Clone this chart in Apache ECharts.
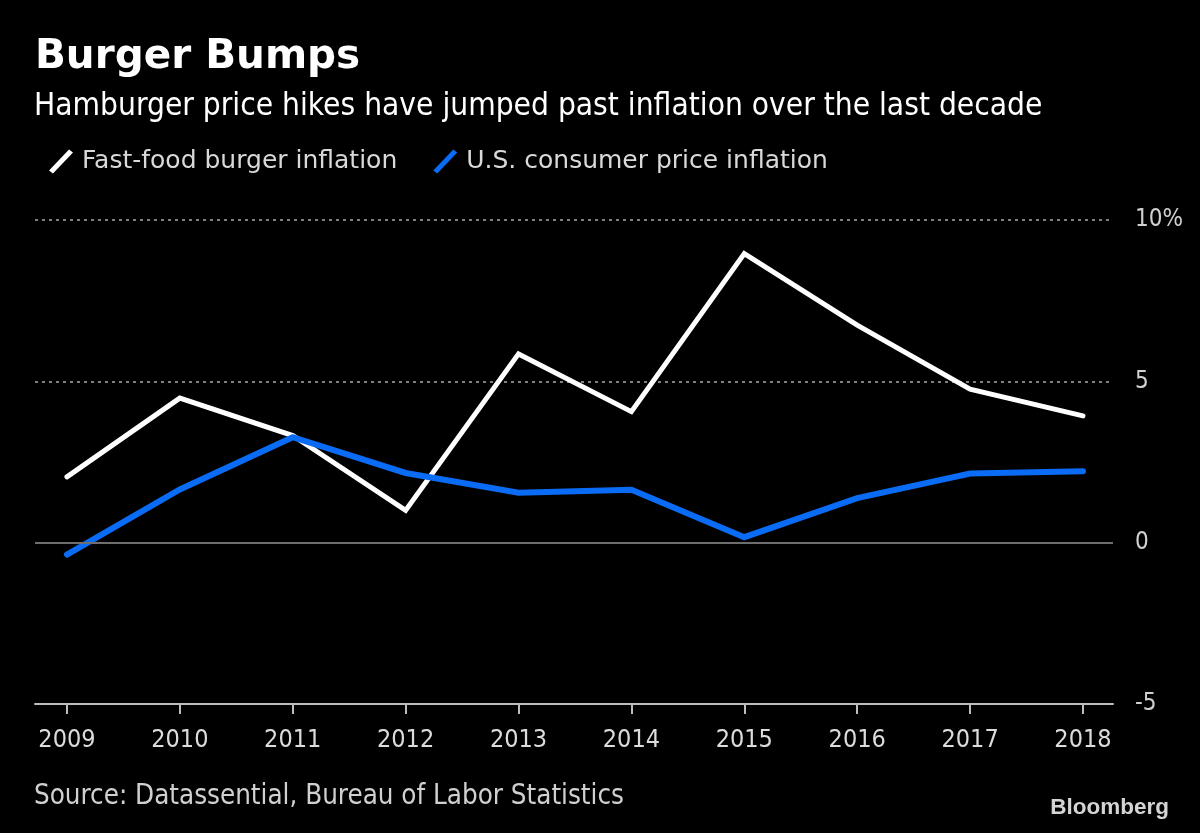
<!DOCTYPE html>
<html>
<head>
<meta charset="utf-8">
<script src="https://cdn.jsdelivr.net/npm/echarts@6/dist/echarts.min.js"></script>
<style>
html,body{margin:0;padding:0;background:#000;}
#chart{width:1200px;height:833px;}
</style>
</head>
<body>
<div id="chart"></div>
<script>
const years = [2009, 2010, 2011, 2012, 2013, 2014, 2015, 2016, 2017, 2018];
const burgerInflation = [2.04, 4.48, 3.32, 1.0, 5.85, 4.06, 8.96, 6.74, 4.76, 3.93];
const cpiInflation = [-0.37, 1.65, 3.27, 2.16, 1.55, 1.64, 0.17, 1.38, 2.14, 2.21];
const yTicks = [-5, 0, 5, 10];
const seriesNames = ['Fast-food burger inflation', 'U.S. consumer price inflation'];

const COND = '"DejaVu Sans Condensed", "DejaVu Sans", sans-serif';
const SANS = '"DejaVu Sans", sans-serif';
const chart = echarts.init(document.getElementById('chart'), null, {renderer: 'canvas'});
const icon = 'path://M0,21 L20,0 L24,3 L4,24 Z';

chart.setOption({
  backgroundColor: '#000',
  animation: false,
  title: [
    {text: 'Burger Bumps', left: 35, top: 37, padding: 0,
     textStyle: {color: '#fff', fontSize: 40.5, fontWeight: 'bold', fontFamily: SANS}},
    {text: 'Hamburger price hikes have jumped past inflation over the last decade', left: 34, top: 91, padding: 0,
     textStyle: {color: '#fff', fontSize: 31.4, fontWeight: 'normal', fontFamily: COND}},
    {text: 'Source: Datassential, Bureau of Labor Statistics', left: 34, top: 783, padding: 0,
     textStyle: {color: '#d0d0d0', fontSize: 27.5, fontWeight: 'normal', fontFamily: COND}},
    {text: 'Bloomberg', right: 31, top: 796, padding: 0,
     textStyle: {color: '#d4d4d4', fontSize: 22.5, fontWeight: 'bold', fontFamily: '"Liberation Sans", Arial, sans-serif'}}
  ],
  legend: {
    left: 49, top: 149, padding: 0,
    itemWidth: 24, itemHeight: 24, itemGap: 36,
    icon: icon,
    data: seriesNames,
    textStyle: {color: '#d9d9d9', fontSize: 25, fontFamily: SANS, padding: [0, 0, 0, 4]}
  },
  grid: {left: 35, right: 87, top: 220, bottom: 129, containLabel: false},
  xAxis: {
    type: 'value',
    min: 2009 - 0.283, max: 2018 + 0.266,
    axisLine: {show: true, onZero: false, lineStyle: {color: '#bdbdbd', width: 2}},
    axisTick: {show: true, customValues: years, length: 10, lineStyle: {color: '#bdbdbd', width: 2}},
    axisLabel: {show: true, customValues: years, margin: 24, color: '#dcdcdc', fontSize: 25, fontFamily: COND,
      formatter: v => String(v)},
    splitLine: {show: false}
  },
  yAxis: {
    type: 'value', position: 'right',
    min: yTicks[0], max: yTicks[yTicks.length - 1], interval: 5,
    axisLine: {show: false}, axisTick: {show: false},
    axisLabel: {margin: 22, color: '#d0d0d0', fontSize: 24, fontFamily: COND,
      formatter: v => (v === 10 ? '10%' : String(v))},
    splitLine: {show: true, lineStyle: {color: '#808080', width: 2, type: [3, 4]}}
  },
  series: [
    {
      name: seriesNames[0], type: 'line', symbol: 'none',
      data: years.map((y, i) => [y, burgerInflation[i]]),
      lineStyle: {color: '#ffffff', width: 5, cap: 'round', join: 'miter'},
      itemStyle: {color: '#ffffff'},
      z: 3,
      markLine: {
        silent: true, symbol: 'none', label: {show: false},
        lineStyle: {color: '#6e6e6e', width: 2, type: 'solid'},
        data: [{yAxis: 0}]
      }
    },
    {
      name: seriesNames[1], type: 'line', symbol: 'none',
      data: years.map((y, i) => [y, cpiInflation[i]]),
      lineStyle: {color: '#0a6cf5', width: 6, cap: 'round', join: 'miter'},
      itemStyle: {color: '#0a6cf5'},
      z: 4
    }
  ]
});
</script>
</body>
</html>
